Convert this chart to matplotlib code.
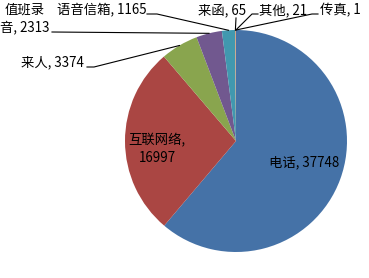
import numpy as np
import matplotlib
matplotlib.use('Agg')
import matplotlib.pyplot as plt
from matplotlib.lines import Line2D

plt.rcParams['font.family'] = ['Noto Sans CJK SC', 'DejaVu Sans']

# 数据
categories = ['电话', '互联网络', '来人', '值班录音', '语音信箱', '来函', '其他', '传真']
values = [37748, 16997, 3374, 2313, 1165, 65, 21, 1]
colors = ['#4572A7', '#AA4643', '#89A54E', '#71588F', '#4198AF', '#DB843D', '#93A9CF', '#D19392']

W, H = 369, 278
fig = plt.figure(figsize=(W / 100, H / 100), dpi=100)


def px(x, y):
    """像素坐标(左上为原点) -> figure 比例坐标"""
    return x / W, 1 - y / H


# 饼图区域: 圆心 (236,141), 半径 111 像素
cx, cy, r = 236, 141, 111
ax = fig.add_axes([(cx - r) / W, 1 - (cy + r) / H, 2 * r / W, 2 * r / H])
ax.pie(values, colors=colors, startangle=90, counterclock=False, radius=1,
       wedgeprops=dict(linewidth=0))
ax.set_xlim(-1, 1)
ax.set_ylim(-1, 1)
ax.set_aspect('auto')
ax.axis('off')

# 每块扇形中点角度 (从正上方顺时针)
total = float(sum(values))
cum = np.cumsum([0] + values)
mid = [(cum[i] + cum[i + 1]) / 2 / total * 2 * np.pi for i in range(len(values))]


def wedge_point(i):
    x, y = np.sin(mid[i]), np.cos(mid[i])
    disp = ax.transData.transform((x, y))
    return fig.transFigure.inverted().transform(disp)


fs = 9.6
lab = {c: f'{c}, {v}' for c, v in zip(categories, values)}

# 内部标签
fig.text(*px(304, 162), lab['电话'], ha='center', va='center', fontsize=fs)
fig.text(*px(157, 149), '互联网络,\n16997', ha='center', va='center', fontsize=fs,
         linespacing=1.35)

# 外部标签
fig.text(*px(84, 62), lab['来人'], ha='right', va='center', fontsize=fs)
fig.text(*px(25, 19), '值班录\n音, 2313', ha='center', va='center', fontsize=fs,
         linespacing=1.35)
fig.text(*px(57, 10), lab['语音信箱'], ha='left', va='center', fontsize=fs)
fig.text(*px(198, 10), lab['来函'], ha='left', va='center', fontsize=fs)
fig.text(*px(259, 10), lab['其他'], ha='left', va='center', fontsize=fs)
fig.text(*px(320, 10), lab['传真'], ha='left', va='center', fontsize=fs)

# 引导线: 标签端点 -> 扇形边缘
leaders = {
    2: [(87, 67), (94, 67)],
    3: [(52, 32)],
    4: [(147, 14), (157, 14)],
    5: [(236, 18)],
    6: [(258, 14), (252, 14)],
    7: [(318, 14), (312, 14)],
}
for i, pts in leaders.items():
    p = [px(*q) for q in pts] + [tuple(wedge_point(i))]
    xs, ys = zip(*p)
    fig.add_artist(Line2D(xs, ys, color='black', lw=0.8, transform=fig.transFigure))

fig.savefig('out.png', dpi=100)
